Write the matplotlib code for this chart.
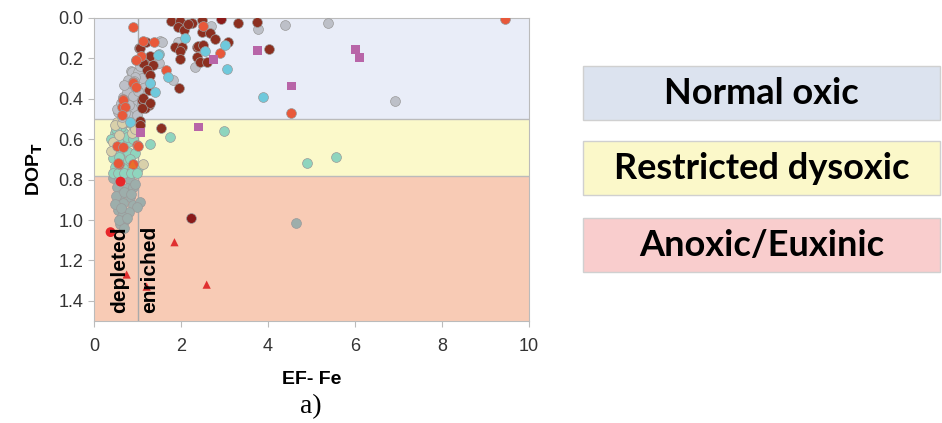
import matplotlib
matplotlib.use("Agg")
import matplotlib.pyplot as plt
from matplotlib.patches import Rectangle

# ---------------- data ----------------
gray_x = [0.85, 1.06, 0.87, 1.02, 1.10, 0.94, 0.79, 0.75, 1.13, 0.67, 0.83, 0.98, 0.60, 0.87, 0.56,
          0.79, 0.98, 0.64, 0.54, 0.75, 0.89, 1.10, 1.52, 1.50, 1.56, 1.95, 1.94, 2.68, 2.44, 2.32,
          1.81, 3.76, 4.39, 5.38, 6.93, 0.70, 0.92, 1.00, 0.62, 0.80, 0.72, 1.05]
gray_y = [0.262, 0.266, 0.266, 0.266, 0.298, 0.29, 0.307, 0.348, 0.348, 0.39, 0.39, 0.422, 0.44, 0.447, 0.464,
          0.48, 0.48, 0.489, 0.45, 0.365, 0.386, 0.42, 0.114, 0.221, 0.117, 0.117, 0.117, 0.04, 0.142, 0.241,
          0.307, 0.056, 0.035, 0.026, 0.41, 0.33, 0.31, 0.36, 0.42, 0.43, 0.47, 0.24]

maroon_x = [1.76, 1.98, 2.25, 2.49, 3.32, 3.74, 4.03, 1.94, 2.07, 2.48, 2.67, 2.78, 1.86, 2.02, 1.98,
            2.36, 2.36, 2.44, 2.59, 3.09, 1.98, 1.96, 2.38, 2.51, 1.04, 1.29, 1.16, 0.97, 1.23, 1.27,
            1.10, 1.27, 1.17, 1.06, 1.06, 1.13, 1.36, 1.21, 1.29, 1.13, 1.29, 1.10, 1.06, 1.54, 1.20, 2.15]
maroon_y = [0.013, 0.013, 0.023, 0.010, 0.026, 0.018, 0.155, 0.046, 0.059, 0.068, 0.076, 0.105, 0.142, 0.145, 0.162,
            0.142, 0.195, 0.216, 0.216, 0.117, 0.204, 0.348, 0.139, 0.134, 0.150, 0.190, 0.224, 0.208, 0.262, 0.356,
            0.406, 0.430, 0.447, 0.510, 0.150, 0.221, 0.233, 0.257, 0.282, 0.397, 0.422, 0.447, 0.530, 0.546, 0.120, 0.030]

darkred_x = [2.92, 2.23]
darkred_y = [0.003, 0.99]

orange_x = [0.89, 2.51, 1.13, 1.39, 1.07, 2.90, 1.66, 0.89, 0.66, 0.64, 0.97, 0.90, 0.97, 0.66, 0.71,
            0.64, 9.45, 4.54, 0.52, 0.58, 0.89, 0.67, 0.98, 0.56, 1.02]
orange_y = [0.043, 0.040, 0.114, 0.117, 0.187, 0.175, 0.257, 0.315, 0.400, 0.440, 0.208, 0.320, 0.340, 0.406, 0.440,
            0.480, 0.006, 0.470, 0.634, 0.724, 0.723, 0.637, 0.629, 0.720, 0.634]

cyan_x = [2.09, 1.49, 2.55, 3.01, 3.05, 1.71, 1.41, 1.29, 3.88, 1.48, 0.83, 1.29]
cyan_y = [0.100, 0.180, 0.162, 0.134, 0.254, 0.290, 0.365, 0.320, 0.393, 0.183, 0.513, 0.323]

mint_x = [0.83, 0.48, 0.67, 1.29, 0.60, 0.79, 0.44, 0.60, 0.79, 0.94, 0.44, 0.71, 0.48, 0.67, 0.87,
          1.02, 0.44, 0.55, 0.70, 0.85, 0.98, 1.75, 2.99, 4.89, 5.56, 0.52, 0.75, 0.90, 0.58, 0.40,
          0.62, 0.82, 0.50]
mint_y = [0.520, 0.571, 0.563, 0.624, 0.607, 0.612, 0.653, 0.670, 0.662, 0.670, 0.695, 0.711, 0.736, 0.744, 0.752,
          0.744, 0.765, 0.765, 0.765, 0.765, 0.765, 0.590, 0.557, 0.720, 0.690, 0.580, 0.590, 0.600, 0.690, 0.600,
          0.540, 0.700, 0.550]

tan_x = [0.52, 0.67, 0.48, 0.64, 0.87, 0.44, 1.13, 0.95, 0.38, 0.58]
tan_y = [0.513, 0.520, 0.530, 0.520, 0.571, 0.612, 0.725, 0.550, 0.660, 0.580]

grgreen_x = [0.44, 0.58, 0.83, 0.52, 0.75, 0.90, 0.60, 0.83, 0.67, 0.90, 1.06, 0.98, 0.50, 0.70,
             0.55, 0.80, 0.65, 0.48, 0.72, 0.60, 0.85, 0.68, 0.58, 0.76, 4.64, 0.95, 0.62]
grgreen_y = [0.794, 0.790, 0.800, 0.835, 0.843, 0.835, 0.876, 0.885, 0.917, 0.926, 0.909, 0.934, 0.880, 0.860,
             0.950, 0.960, 0.980, 0.920, 1.000, 1.020, 0.870, 1.040, 1.000, 0.990, 1.015, 0.820, 0.940]

red_x = [0.61, 0.38]
red_y = [0.81, 1.06]

redtri_x = [1.85, 2.59, 0.75, 1.21]
redtri_y = [1.11, 1.32, 1.27, 1.33]

orangetri_x = [0.89]
orangetri_y = [0.723]

purple_x = [6.02, 6.11, 4.54, 3.76, 2.74, 2.40, 1.07]
purple_y = [0.155, 0.196, 0.337, 0.162, 0.204, 0.540, 0.568]

zone_bounds = [0.0, 0.5, 0.78, 1.5]
zone_colors = ["#E9EDF8", "#FBF9CA", "#F8CBB5"]
zone_labels = ["Normal oxic", "Restricted dysoxic", "Anoxic/Euxinic"]
box_colors = ["#DCE3EF", "#FBF8C9", "#F9CDCD"]

x_ticks = [0, 2, 4, 6, 8, 10]
y_ticks = [0.0, 0.2, 0.4, 0.6, 0.8, 1.0, 1.2, 1.4]

# ---------------- figure ----------------
W, H = 942, 423
fig = plt.figure(figsize=(W / 100, H / 100), dpi=100)
ax = fig.add_axes([94 / W, 1 - 321 / H, (529 - 94) / W, (321 - 18) / H])

for i, c in enumerate(zone_colors):
    ax.axhspan(zone_bounds[i], zone_bounds[i + 1], color=c, zorder=0, lw=0)
for b in zone_bounds[1:-1]:
    ax.axhline(b, color="#BBBBBB", lw=1.0, zorder=1)
ax.axvline(1.0, color="#AAAAAA", lw=1.0, zorder=1)

s = 50
ec = "#9A9A9A"
kw = dict(s=s, edgecolors=ec, linewidths=0.5, zorder=3)
ax.scatter(grgreen_x, grgreen_y, c="#9DAEAB", **kw)
ax.scatter(mint_x, mint_y, c="#8FD5BE", **kw)
ax.scatter(tan_x, tan_y, c="#D8D0AA", **kw)
ax.scatter(gray_x, gray_y, c="#BDC0C8", **kw)
ax.scatter(maroon_x, maroon_y, c="#8C2F20", **kw)
ax.scatter(orange_x, orange_y, c="#E8583A", **kw)
ax.scatter(cyan_x, cyan_y, c="#6FC9DC", **kw)
ax.scatter(darkred_x, darkred_y, c="#8B1A1A", **kw)
ax.scatter(red_x, red_y, c="#E8262A", s=s, edgecolors="none", zorder=3)
ax.scatter(purple_x, purple_y, c="#B865A8", marker="s", s=40, edgecolors="none", zorder=3)
ax.scatter(redtri_x, redtri_y, c="#E03030", marker="^", s=35, edgecolors="none", zorder=2)
ax.scatter(orangetri_x, orangetri_y, c="#E8702A", marker="^", s=35, edgecolors="none", zorder=3)

ax.text(0.60, 1.46, "depleted", rotation=90, ha="center", va="bottom",
        fontsize=15, fontweight="bold", family="Liberation Sans", zorder=4)
ax.text(1.29, 1.46, "enriched", rotation=90, ha="center", va="bottom",
        fontsize=15, fontweight="bold", family="Liberation Sans", zorder=4)

ax.set_xlim(0, 10)
ax.set_ylim(1.5, 0)
ax.set_xticks(x_ticks)
ax.set_yticks(y_ticks)
ax.set_yticklabels([f"{v:.1f}" for v in y_ticks])
ax.tick_params(labelsize=13, color="#BBBBBB", length=4, width=0.8)
ax.tick_params(axis="x", pad=8)
for lab in ax.get_xticklabels() + ax.get_yticklabels():
    lab.set_family("Liberation Sans")
    lab.set_color("#333333")
for sp in ax.spines.values():
    sp.set_color("#BBBBBB")
    sp.set_linewidth(0.8)

ax.set_xlabel("EF- Fe", fontsize=14, fontweight="bold", family="Liberation Sans", labelpad=12)
ax.set_ylabel(r"DOP$_\mathbf{T}$", fontsize=14, fontweight="bold", family="Liberation Sans", labelpad=10)

fig.text(311 / W, 1 - 407 / H, "a)", ha="center", va="center", fontsize=20, family="Liberation Serif")

# right-hand zone boxes
box_top = [66, 141, 218]
box_h = 54
for top, col, lab in zip(box_top, box_colors, zone_labels):
    r = Rectangle((583 / W, 1 - (top + box_h) / H), (940 - 583) / W, box_h / H,
                  transform=fig.transFigure, facecolor=col, edgecolor="#D0D0D0", lw=1.0)
    fig.patches.append(r)
    fig.text((583 + 940) / 2 / W, 1 - (top + box_h / 2) / H, lab, ha="center", va="center",
             fontsize=26, fontweight="bold", family="Lato")

fig.savefig("out.png", dpi=100)
